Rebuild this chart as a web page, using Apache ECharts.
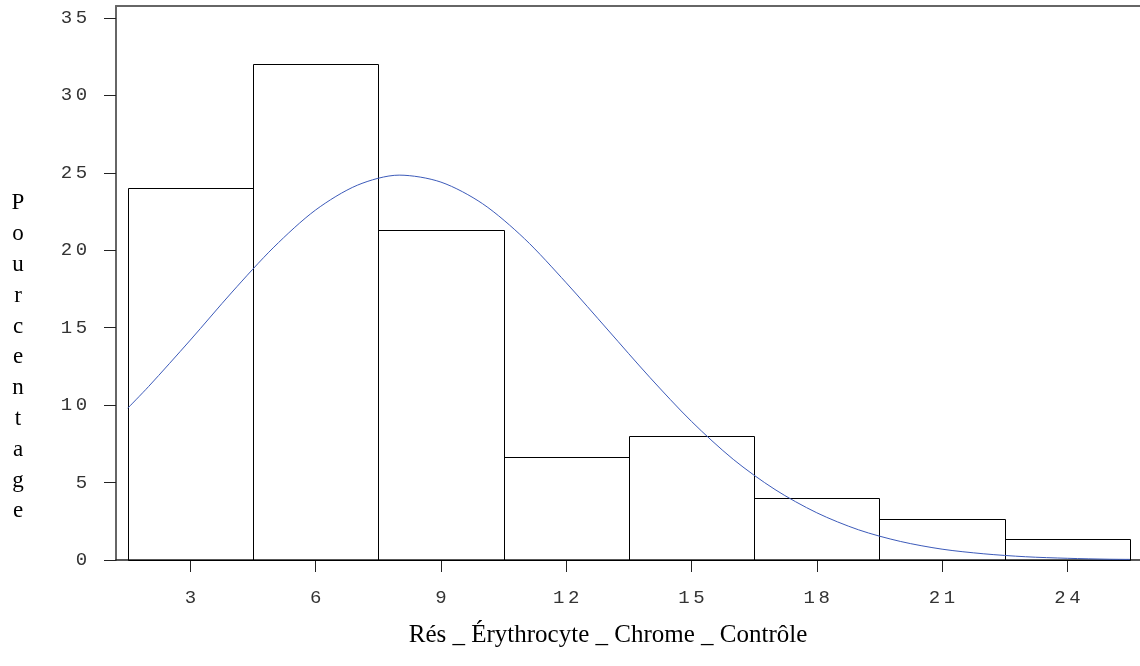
<!DOCTYPE html>
<html>
<head>
<meta charset="utf-8">
<script src="https://cdn.jsdelivr.net/npm/echarts@6/dist/echarts.min.js"></script>
<style>
  html, body { margin: 0; padding: 0; background: #fff; }
  #chart { width: 1140px; height: 666px; }
</style>
</head>
<body>
<div id="chart"></div>
<script>
// histogram bins (left edge, right edge) and percentages
var binLeft = [1.5, 4.5, 7.5, 10.5, 13.5, 16.5, 19.5, 22.5]
var binRight = [4.5, 7.5, 10.5, 13.5, 16.5, 19.5, 22.5, 25.5]
var percent = [24, 32, 21.33, 6.67, 8, 4, 2.67, 1.33]

// fitted normal curve
var curveX = [1.5, 2, 3, 4, 5, 6, 7, 8, 9, 10, 11, 12, 13, 14, 15, 16, 17, 18, 19, 20, 21, 22, 23, 24, 25, 25.5]
var curveY = [9.8, 11.2, 14.2, 17.3, 20.2, 22.6, 24.2, 24.85, 24.4, 23.0, 20.75, 17.9, 14.85, 11.8, 8.95, 6.5, 4.55, 3.05, 1.95, 1.2, 0.7, 0.4, 0.21, 0.11, 0.05, 0.04]

var xTicks = [3, 6, 9, 12, 15, 18, 21, 24]
var yTicks = [0, 5, 10, 15, 20, 25, 30, 35]

var xTitle = 'Rés _ Érythrocyte _ Chrome _ Contrôle'
var yTitle = 'Pourcentage'

var chart = echarts.init(document.getElementById('chart'))

var barData = []
for (let i = 0; i < percent.length; i++) {
    barData.push([binLeft[i], binRight[i], percent[i]])
}
var curveData = curveX.map(function (x, i) { return [x, curveY[i]] })

var monoRich = {
    d: { width: 15, align: 'center', fontFamily: 'Liberation Mono', fontSize: 19, color: '#333' }
}
function spaced(v) {
    return String(v).split('').map(function (c) { return '{d|' + c + '}' }).join('')
}

var option = {
    animation: false,
    backgroundColor: '#fff',
    grid: { left: 116, top: 6, right: 0, bottom: 106 },
    xAxis: [
        {
            type: 'value',
            min: 1.22,
            max: 25.74,
            position: 'bottom',
            splitLine: { show: false },
            axisLine: { show: true, lineStyle: { color: '#222', width: 1.5 } },
            axisTick: { show: true, length: 12, customValues: xTicks, lineStyle: { color: '#222', width: 1 } },
            axisLabel: { customValues: xTicks, margin: 28, formatter: spaced, rich: monoRich }
        },
        {
            type: 'value',
            min: 1.22,
            max: 25.74,
            position: 'top',
            splitLine: { show: false },
            axisLine: { show: true, lineStyle: { color: '#666', width: 2 } },
            axisTick: { show: false },
            axisLabel: { show: false }
        }
    ],
    yAxis: {
        type: 'value',
        min: 0,
        max: 35.77,
        splitLine: { show: false },
        axisLine: { show: true, lineStyle: { color: '#666', width: 2 } },
        axisTick: { show: true, length: 12, customValues: yTicks, lineStyle: { color: '#222', width: 1 } },
        axisLabel: { customValues: yTicks, margin: 27, formatter: spaced, rich: monoRich }
    },
    graphic: [
        {
            type: 'text',
            x: 18,
            y: 188,
            style: {
                text: yTitle.split('').join('\n'),
                fontFamily: 'Liberation Serif',
                fontSize: 23,
                lineHeight: 30.8,
                fill: '#000',
                align: 'center',
                verticalAlign: 'top'
            }
        },
        {
            type: 'text',
            x: 608,
            y: 635,
            style: {
                text: xTitle,
                fontFamily: 'Liberation Serif',
                fontSize: 25,
                fill: '#000',
                align: 'center',
                verticalAlign: 'middle'
            }
        }
    ],
    series: [
        {
            type: 'custom',
            data: barData,
            encode: { x: [0, 1], y: 2 },
            renderItem: function (params, api) {
                var p0 = api.coord([api.value(0), api.value(2)])
                var p1 = api.coord([api.value(1), 0])
                var x0 = Math.round(p0[0]) + 0.5
                var x1 = Math.round(p1[0]) + 0.5
                var y0 = Math.round(p0[1]) + 0.5
                var y1 = Math.round(p1[1]) + 0.5
                return {
                    type: 'rect',
                    shape: { x: x0, y: y0, width: x1 - x0, height: y1 - y0 },
                    style: { fill: 'none', stroke: '#000', lineWidth: 1 }
                }
            },
            z: 2
        },
        {
            type: 'line',
            data: curveData,
            showSymbol: false,
            smooth: 0.3,
            lineStyle: { color: '#3c5ab9', width: 1 },
            z: 3
        }
    ]
}
chart.setOption(option)
</script>
</body>
</html>
